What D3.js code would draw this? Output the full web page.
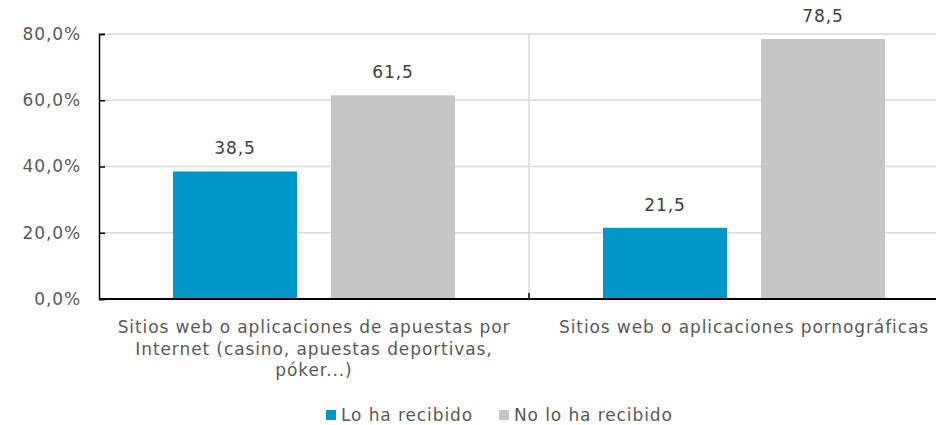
<!DOCTYPE html>
<html>
<head>
<meta charset="utf-8">
<script src="https://cdn.jsdelivr.net/npm/d3@7"></script>
<style>
body { margin: 0; background: #fff; }
svg { display: block; font-family: "DejaVu Sans", Verdana, sans-serif; }
svg text { letter-spacing: 0.9px; }
</style>
</head>
<body>
<div id="chart"></div>
<script>
var categories = ["Sitios web o aplicaciones de apuestas por Internet (casino, apuestas deportivas, póker...)",
                  "Sitios web o aplicaciones pornográficas"];
var categoryLines = [["Sitios web o aplicaciones de apuestas por", "Internet (casino, apuestas deportivas,", "póker...)"],
                     ["Sitios web o aplicaciones pornográficas"]];
var seriesNames = ["Lo ha recibido", "No lo ha recibido"];
var recibido = [38.5, 21.5];
var noRecibido = [61.5, 78.5];
var yTicks = [0, 20, 40, 60, 80];
var colors = ["#0097c9", "#c6c6c6"];

var W = 936, H = 425;
var margin = {top: 34, right: -23, bottom: 126, left: 99},
    width = W - margin.left - margin.right,
    height = H - margin.top - margin.bottom;

var svg = d3.select("#chart").append("svg")
  .attr("width", W)
  .attr("height", H)
.append("g")
  .attr("transform", "translate(" + margin.left + "," + margin.top + ")");

var x0 = d3.scaleBand()
  .domain(categories)
  .range([0, width])
  .paddingInner(0)
  .paddingOuter(0);

var x1 = d3.scaleBand()
  .domain(seriesNames)
  .range([74, x0.bandwidth() - 74])
  .paddingInner(0.215);

var y = d3.scaleLinear()
  .domain([0, 80])
  .range([height, 0]);

var fmt = function(v){ return d3.format(".1f")(v).replace(".", ","); };

// gridlines
svg.selectAll(".grid")
  .data(yTicks.slice(1))
  .enter().append("line")
  .attr("x1", 0).attr("x2", width)
  .attr("y1", d => y(d)).attr("y2", d => y(d))
  .attr("stroke", "#d9d9d9").attr("stroke-width", 1.5);

// vertical separator
svg.append("line")
  .attr("x1", x0.bandwidth()).attr("x2", x0.bandwidth())
  .attr("y1", 0).attr("y2", height)
  .attr("stroke", "#d9d9d9").attr("stroke-width", 1.5);

var data = categories.map(function(c, i){
  return {cat: c, values: [{s: seriesNames[0], v: recibido[i]}, {s: seriesNames[1], v: noRecibido[i]}]};
});

var groups = svg.selectAll(".group")
  .data(data)
  .enter().append("g")
  .attr("transform", d => "translate(" + x0(d.cat) + ",0)");

groups.selectAll("rect")
  .data(d => d.values)
  .enter().append("rect")
  .attr("x", d => x1(d.s))
  .attr("y", d => y(d.v))
  .attr("width", x1.bandwidth())
  .attr("height", d => height - y(d.v))
  .attr("fill", (d, i) => colors[i]);

groups.selectAll(".value")
  .data(d => d.values)
  .enter().append("text")
  .attr("x", d => x1(d.s) + x1.bandwidth() / 2)
  .attr("y", d => y(d.v) - 17)
  .attr("text-anchor", "middle")
  .attr("font-size", "17px")
  .attr("fill", "#404040")
  .text(d => fmt(d.v));

// y axis
var yAxis = svg.append("g")
  .call(d3.axisLeft(y).tickValues(yTicks).tickSize(-6).tickPadding(18).tickFormat(d => fmt(d) + "%"));
yAxis.select(".domain").attr("stroke", "#000").attr("stroke-width", 1.5);
yAxis.selectAll(".tick line").attr("stroke", "#000").attr("stroke-width", 1.5);
yAxis.selectAll(".tick text").attr("font-size", "17px").attr("fill", "#595959")
  .attr("font-family", "DejaVu Sans, Verdana, sans-serif");

// x axis
svg.append("line")
  .attr("x1", 0).attr("x2", width)
  .attr("y1", height).attr("y2", height)
  .attr("stroke", "#000").attr("stroke-width", 2);
svg.append("line")
  .attr("x1", x0.bandwidth()).attr("x2", x0.bandwidth())
  .attr("y1", height).attr("y2", height - 6)
  .attr("stroke", "#000").attr("stroke-width", 1.5);

// category labels
groups.each(function(d, i){
  var t = d3.select(this).append("text")
    .attr("text-anchor", "middle")
    .attr("font-size", "17px")
    .attr("fill", "#595959");
  categoryLines[i].forEach(function(line, j){
    t.append("tspan")
      .attr("x", x0.bandwidth() / 2)
      .attr("y", height + 34 + j * 21.5)
      .text(line);
  });
});

// legend
var legend = d3.select("svg").append("g").attr("transform", "translate(326,415)");
var lx = [0, 173];
seriesNames.forEach(function(s, i){
  legend.append("rect")
    .attr("x", lx[i]).attr("y", -5)
    .attr("width", 10).attr("height", 10)
    .attr("fill", colors[i]);
  legend.append("text")
    .attr("x", lx[i] + 15).attr("y", 6)
    .attr("font-size", "17px")
    .attr("fill", "#595959")
    .text(s);
});
</script>
</body>
</html>
